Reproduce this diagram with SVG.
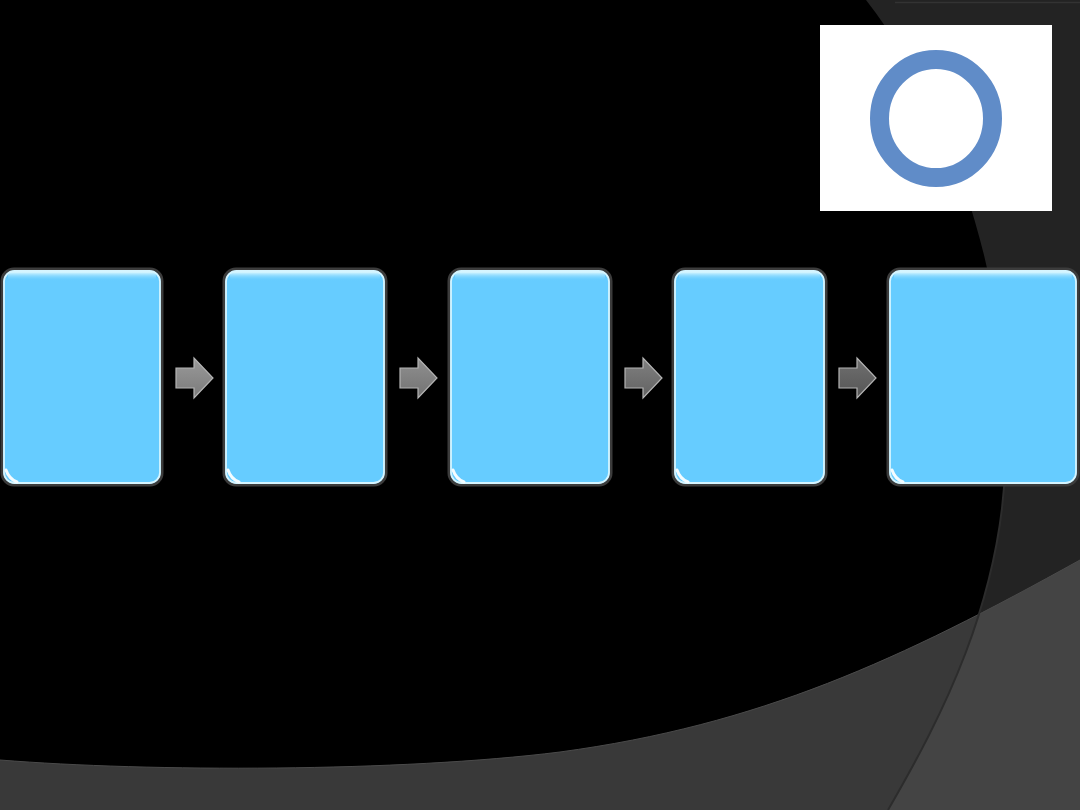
<svg xmlns="http://www.w3.org/2000/svg" width="1080" height="810" viewBox="0 0 1080 810">
  <defs>
    <style>
      .box { fill: #66CCFF; stroke: #3c3c3c; stroke-width: 3; }
      .boxin { fill: none; stroke: #d6f5ff; stroke-width: 1.8; }
      .hl { fill: url(#topHl); }
      .corner { fill: none; stroke: #f4fcff; stroke-width: 3; stroke-linecap: round; }
      .arrow { stroke: #b4b4b4; stroke-width: 1.2; stroke-linejoin: miter; }
    </style>
    <linearGradient id="topHl" x1="0" y1="0" x2="0" y2="1">
      <stop offset="0" stop-color="#dcf8ff"/>
      <stop offset="1" stop-color="#66CCFF" stop-opacity="0"/>
    </linearGradient>
    <linearGradient id="ag1" x1="0" y1="0" x2="0" y2="1">
      <stop offset="0" stop-color="#9a9a9a"/><stop offset="1" stop-color="#7a7a7a"/>
    </linearGradient>
    <linearGradient id="ag2" x1="0" y1="0" x2="0" y2="1">
      <stop offset="0" stop-color="#909090"/><stop offset="1" stop-color="#727272"/>
    </linearGradient>
    <linearGradient id="ag3" x1="0" y1="0" x2="0" y2="1">
      <stop offset="0" stop-color="#808080"/><stop offset="1" stop-color="#626262"/>
    </linearGradient>
    <linearGradient id="ag4" x1="0" y1="0" x2="0" y2="1">
      <stop offset="0" stop-color="#707070"/><stop offset="1" stop-color="#555555"/>
    </linearGradient>
    <clipPath id="rightArea">
      <path d="M866,0 C960,120 1010,300 1006,450 C1004,600 940,720 888,810 L1080,810 L1080,0 Z"/>
    </clipPath>
  </defs>

  <!-- background -->
  <rect x="0" y="0" width="1080" height="810" fill="#000000"/>
  <path d="M866,0 C960,120 1010,300 1006,450 C1004,600 940,720 888,810 L1080,810 L1080,0 Z" fill="#232323"/>
  <line x1="895" y1="2.5" x2="1080" y2="2.5" stroke="#333333" stroke-width="1.5"/>
  <path d="M0,760 C150,772 400,772 560,752 C760,725 900,660 1080,560 L1080,810 L0,810 Z" fill="#393939"/>
  <path d="M0,760 C150,772 400,772 560,752 C760,725 900,660 1080,560 L1080,810 L0,810 Z" fill="#444444" clip-path="url(#rightArea)"/>
  <path d="M0,760 C150,772 400,772 560,752 C760,725 900,660 1080,560" fill="none" stroke="#4a4a4a" stroke-width="1"/>
  <path d="M1006,450 C1004,600 940,720 888,810" fill="none" stroke="#2c2c2c" stroke-width="2"/>

  <!-- picture -->
  <g id="picture">
    <rect x="820" y="25" width="232" height="186" fill="#ffffff"/>
    <ellipse cx="936" cy="118.5" rx="56.5" ry="59" fill="none" stroke="#608CC8" stroke-width="19"/>
  </g>

  <!-- nodes -->
  <g id="node1">
    <rect class="box" x="2" y="269" width="160" height="216" rx="12"/>
    <rect class="boxin" x="4" y="271" width="156" height="212" rx="10.5"/>
    <rect class="hl" x="8" y="272" width="148" height="9" rx="4"/>
    <path class="corner" d="M6,470 Q9,479 17,482"/>
  </g>
  <g id="node2">
    <rect class="box" x="224" y="269" width="162" height="216" rx="12"/>
    <rect class="boxin" x="226" y="271" width="158" height="212" rx="10.5"/>
    <rect class="hl" x="230" y="272" width="150" height="9" rx="4"/>
    <path class="corner" d="M228,470 Q231,479 239,482"/>
  </g>
  <g id="node3">
    <rect class="box" x="449" y="269" width="162" height="216" rx="12"/>
    <rect class="boxin" x="451" y="271" width="158" height="212" rx="10.5"/>
    <rect class="hl" x="455" y="272" width="150" height="9" rx="4"/>
    <path class="corner" d="M453,470 Q456,479 464,482"/>
  </g>
  <g id="node4">
    <rect class="box" x="673" y="269" width="153" height="216" rx="12"/>
    <rect class="boxin" x="675" y="271" width="149" height="212" rx="10.5"/>
    <rect class="hl" x="679" y="272" width="141" height="9" rx="4"/>
    <path class="corner" d="M677,470 Q680,479 688,482"/>
  </g>
  <g id="node5">
    <rect class="box" x="888" y="269" width="190" height="216" rx="12"/>
    <rect class="boxin" x="890" y="271" width="186" height="212" rx="10.5"/>
    <rect class="hl" x="894" y="272" width="178" height="9" rx="4"/>
    <path class="corner" d="M892,470 Q895,479 903,482"/>
  </g>

  <!-- connectors -->
  <g id="connectors">
    <path class="arrow" fill="url(#ag1)" d="M176,368 L194,368 L194,358 L213,378 L194,398 L194,388 L176,388 Z"/>
    <path class="arrow" fill="url(#ag2)" d="M400,368 L418,368 L418,358 L437,378 L418,398 L418,388 L400,388 Z"/>
    <path class="arrow" fill="url(#ag3)" d="M625,368 L643,368 L643,358 L662,378 L643,398 L643,388 L625,388 Z"/>
    <path class="arrow" fill="url(#ag4)" d="M839,368 L857,368 L857,358 L876,378 L857,398 L857,388 L839,388 Z"/>
  </g>
</svg>
